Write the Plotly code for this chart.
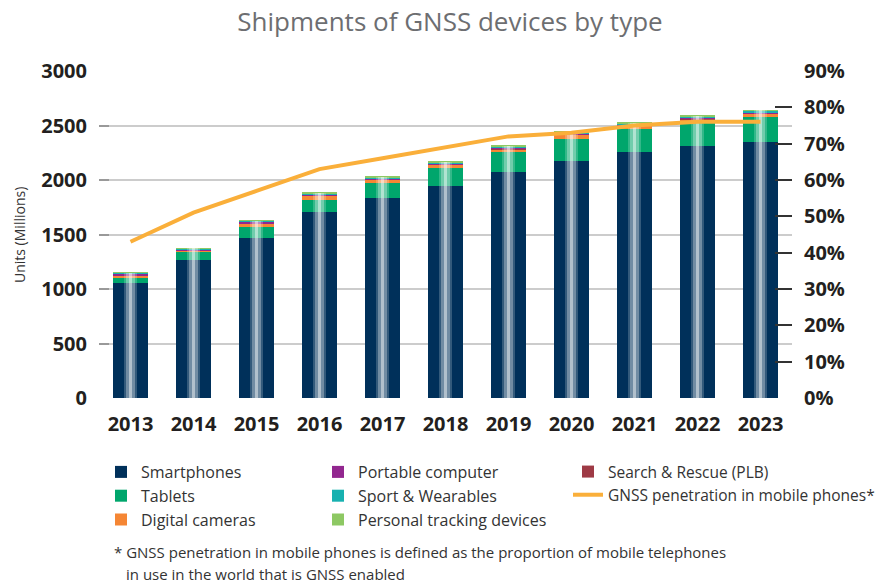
import plotly.graph_objects as go

years = ["2013", "2014", "2015", "2016", "2017", "2018", "2019", "2020", "2021", "2022", "2023"]
smartphones = [1058, 1266, 1465, 1705, 1835, 1945, 2073, 2174, 2257, 2312, 2349]
tablets = [52, 76, 106, 110, 138, 165, 183, 202, 211, 229, 229]
digital_cameras = [12, 8, 30, 45, 28, 28, 28, 40, 31, 18, 34]
search_rescue = [1, 1, 1, 1, 1, 1, 1, 1, 1, 1, 1]
portable_computer = [18, 15, 18, 9, 15, 12, 10, 6, 6, 5, 4]
sport_wearables = [6, 4, 4, 9, 8, 10, 8, 15, 15, 20, 18]
personal_tracking = [3, 2, 2, 3, 4, 5, 9, 5, 6, 6, 4]
penetration = [0.43, 0.51, 0.57, 0.63, 0.66, 0.69, 0.72, 0.73, 0.75, 0.76, 0.76]

FONT = "Open Sans"
TXT = "#333333"

series = [
    ("Smartphones", smartphones, "#00305A", "legend", 1),
    ("Tablets", tablets, "#00A66C", "legend", 2),
    ("Digital cameras", digital_cameras, "#F58634", "legend", 3),
    ("Search & Rescue (PLB)", search_rescue, "#9E3A45", "legend3", 1),
    ("Portable computer", portable_computer, "#92278F", "legend2", 1),
    ("Sport & Wearables", sport_wearables, "#17B1B0", "legend2", 2),
    ("Personal tracking devices", personal_tracking, "#8DC863", "legend2", 3),
]

fig = go.Figure()
for name, vals, col, lg, rank in series:
    fig.add_trace(go.Bar(x=years, y=vals, name=name, marker=dict(color=col, line=dict(width=0)),
                         legend=lg, legendrank=rank, hoverinfo="skip"))

totals = [sum(v) for v in zip(smartphones, tablets, digital_cameras, search_rescue,
                               portable_computer, sport_wearables, personal_tracking)]

# glossy highlight layers (separate overlay axes so they don't stack)
for ax, w, op in [("y2", 0.22, 0.2), ("y3", 0.13, 0.3), ("y4", 0.06, 0.45)]:
    fig.add_trace(go.Bar(x=years, y=totals, width=w, yaxis=ax, showlegend=False,
                         marker=dict(color="white", line=dict(width=0)), opacity=op,
                         hoverinfo="skip"))

fig.add_trace(go.Scatter(x=years, y=penetration, yaxis="y5", mode="lines",
                         name="GNSS penetration in mobile phones*",
                         line=dict(color="#FAAF3A", width=4), legend="legend3", legendrank=2,
                         hoverinfo="skip"))

W, H = 886, 584
L, R, T, B = 99, 94, 71, 186

def px_to_paper_x(px):
    return (px - L) / (W - L - R)

def px_to_paper_y(py):
    return (H - B - py) / (H - T - B)

def legend_cfg(x_px, y_px, size):
    return dict(x=x_px / W, y=1 - y_px / H, xref="container", yref="container",
                xanchor="left", yanchor="top", orientation="v", traceorder="normal",
                bgcolor="rgba(0,0,0,0)", font=dict(family=FONT, size=size, color=TXT),
                tracegroupgap=0)

hidden_axis = dict(overlaying="y", range=[0, 3000], visible=False, showgrid=False, zeroline=False)
tickfont = dict(family=FONT, size=20, color="#231F20", weight="bold")

fig.update_layout(
    width=W, height=H,
    margin=dict(l=L, r=R, t=T, b=B, autoexpand=False),
    barmode="stack", bargap=0.444,
    plot_bgcolor="white", paper_bgcolor="white",
    font=dict(family=FONT, color=TXT),
    title=dict(text="Shipments of GNSS devices by type", x=450 / W, xref="container",
               xanchor="center", y=1 - 22 / H, yanchor="middle",
               font=dict(family=FONT, size=26, color="#6D6E71")),
    xaxis=dict(type="category", range=[-0.5, 10.5], showgrid=False, showline=False, ticks="",
               tickfont=tickfont, ticklabelstandoff=12),
    yaxis=dict(range=[0, 3000], dtick=500, tick0=0, showgrid=True, gridcolor="#CCCCCC",
               gridwidth=1.5, zeroline=True, zerolinecolor="white", zerolinewidth=2,
               ticks="inside", ticklen=10, tickcolor="#999999", tickwidth=1.5,
               tickfont=tickfont, ticklabelstandoff=11, showline=False),
    yaxis2=hidden_axis,
    yaxis3=hidden_axis,
    yaxis4=hidden_axis,
    yaxis5=dict(overlaying="y", side="right", range=[0, 0.9], dtick=0.1, tick0=0,
                tickformat=".0%", showgrid=False, zeroline=False, showline=False,
                ticks="inside", ticklen=17, tickcolor="#333333", tickwidth=1.5,
                tickfont=tickfont, ticklabelstandoff=11),
    legend=legend_cfg(101, 455, 16),
    legend2=legend_cfg(318, 455, 16),
    legend3=legend_cfg(568, 455, 15.5),
    annotations=[
        dict(text="Units (Millions)", textangle=-90, xref="paper", yref="paper",
             x=px_to_paper_x(20), y=px_to_paper_y(235), showarrow=False,
             xanchor="center", yanchor="middle", font=dict(family=FONT, size=14, color=TXT)),
        dict(text="* GNSS penetration in mobile phones is defined as the proportion of mobile telephones",
             xref="paper", yref="paper", x=px_to_paper_x(112), y=px_to_paper_y(552),
             showarrow=False, xanchor="left", yanchor="middle",
             font=dict(family=FONT, size=15, color=TXT)),
        dict(text="in use in the world that is GNSS enabled",
             xref="paper", yref="paper", x=px_to_paper_x(124), y=px_to_paper_y(574),
             showarrow=False, xanchor="left", yanchor="middle",
             font=dict(family=FONT, size=15, color=TXT)),
    ],
)

fig.write_html("out.html", config={"displayModeBar": False},
               post_script="document.body.style.margin='0';")
